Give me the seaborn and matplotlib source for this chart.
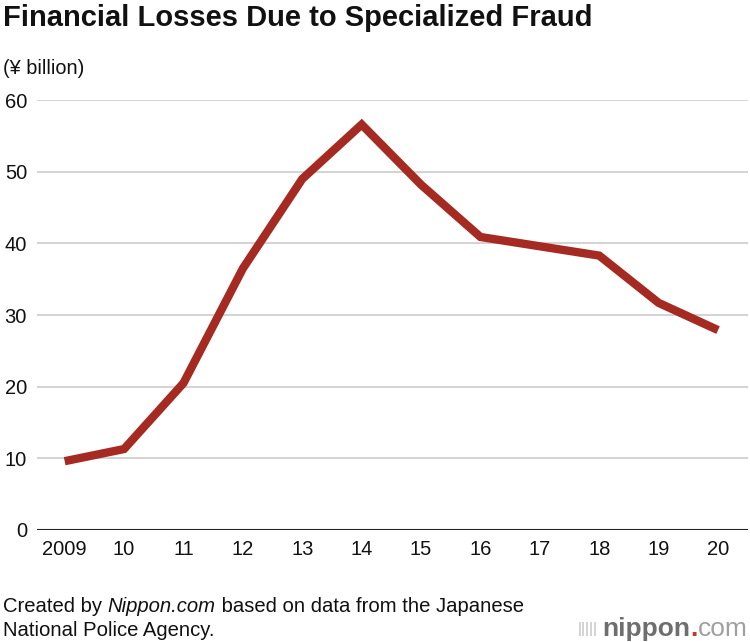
import numpy as np
import pandas as pd
import matplotlib
matplotlib.use("Agg")
import matplotlib.pyplot as plt
import seaborn as sns

years = ["2009", "10", "11", "12", "13", "14", "15", "16", "17", "18", "19", "20"]
losses = [9.6, 11.3, 20.5, 36.5, 49.0, 56.6, 48.2, 40.9, 39.6, 38.3, 31.7, 27.9]
y_ticks = [0, 10, 20, 30, 40, 50, 60]

sns.set_style("white")
plt.rcParams['font.family'] = ['Liberation Sans', 'DejaVu Sans']

df = pd.DataFrame({"year": years, "loss": losses})
df["pos"] = np.arange(len(years))

fig = plt.figure(figsize=(7.5, 6.42), dpi=100)
ax = fig.add_axes([0.049, 0.1745, 0.948, 0.6695])

sns.lineplot(data=df, x="pos", y="loss", ax=ax, color="#a52a22", linewidth=6,
             solid_capstyle="butt", solid_joinstyle="miter")

ax.set_xlim(-0.47, 11.5)
ax.set_ylim(0, 60)
ax.set_yticks(y_ticks)
ax.set_xticks(df["pos"])
ax.set_xticklabels(years)
ax.yaxis.grid(True, color="#cccccc", linewidth=1.2)
ax.set_axisbelow(True)
ax.axhline(0, color="#222222", linewidth=1.5, zorder=1)
for s in ax.spines.values():
    s.set_visible(False)
ax.tick_params(axis="both", length=0, labelsize=14.5, colors="#111111")
ax.tick_params(axis="x", pad=7)
ax.tick_params(axis="y", pad=7)
ax.set_xlabel("")
ax.set_ylabel("")

fig.text(0.004, 0.972, "Financial Losses Due to Specialized Fraud", fontsize=21,
         fontweight="bold", va="center", ha="left", color="#111111")
fig.text(0.004, 0.893, "(¥ billion)", fontsize=14.3, va="center", ha="left", color="#111111")

fig.canvas.draw()
r = fig.canvas.get_renderer()
W = fig.bbox.width

# source note, first line chained left to right
x = 0.004
for part, style in [("Created by ", "normal"), ("Nippon.com", "italic"),
                    (" based on data from the Japanese", "normal")]:
    t = fig.text(x, 0.055, part, fontsize=14.6, style=style, va="center", ha="left", color="#111111")
    x = t.get_window_extent(r).x1 / W
fig.text(0.004, 0.018, "National Police Agency.", fontsize=14.6, va="center", ha="left", color="#111111")

# logo, chained right to left
t_com = fig.text(0.997, 0.021, "com", fontsize=19, va="center", ha="right", color="#a0a0a0")
x = t_com.get_window_extent(r).x0 / W
t_dot = fig.text(x, 0.021, ".", fontsize=19, va="center", ha="right", color="#c0392b", fontweight="bold")
x = t_dot.get_window_extent(r).x0 / W
t_nip = fig.text(x, 0.021, "nippon", fontsize=19, va="center", ha="right", color="#6e6e6e", fontweight="bold")
x = t_nip.get_window_extent(r).x0 / W
fig.text(x - 0.006, 0.021, "|||||", fontsize=11, va="center", ha="right", color="#bbbbbb")

fig.savefig("out.png", dpi=100)
